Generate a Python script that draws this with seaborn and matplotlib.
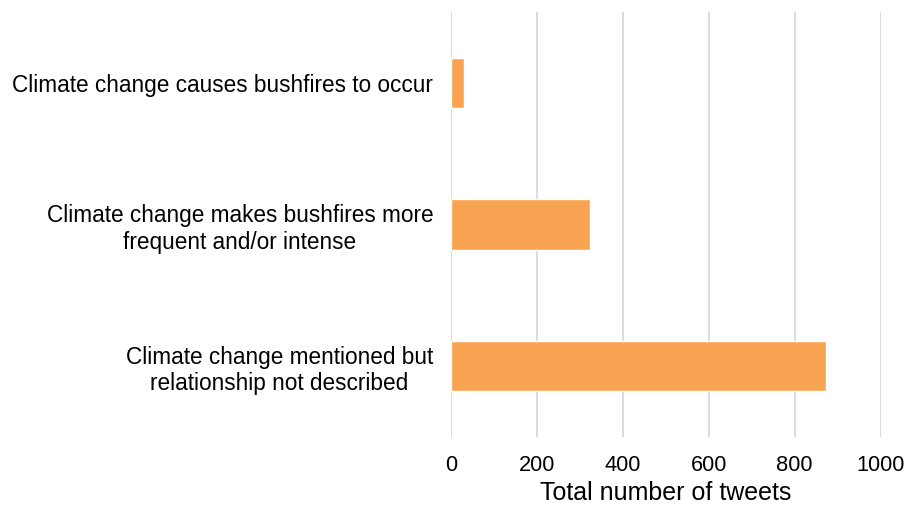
import matplotlib
matplotlib.use('Agg')
import matplotlib.pyplot as plt
import seaborn as sns
import pandas as pd

categories = ['Climate change causes bushfires to occur',
              'Climate change makes bushfires more\nfrequent and/or intense',
              'Climate change mentioned but\nrelationship not described']
tweets = [30, 324, 872]

df = pd.DataFrame({'category': categories, 'tweets': tweets})

sns.set_style('white')
plt.rcParams['font.family'] = ['Liberation Sans', 'DejaVu Sans']

fig = plt.figure(figsize=(9.06, 5.08), dpi=100)
ax = fig.add_axes([0.498, 0.140, 0.474, 0.836])

sns.barplot(ax=ax, data=df, x='tweets', y='category', color='#F9A452',
            saturation=1, width=0.355, orient='h')

ax.set_xlim(0, 1000)
ax.set_ylim(2.5, -0.5)
ax.set_xticks(range(0, 1001, 200))
ax.xaxis.grid(True, color='#d9d9d9', linewidth=1.3)
ax.set_axisbelow(True)
for s in ax.spines.values():
    s.set_visible(False)

ax.tick_params(axis='x', labelsize=15.7, length=0, pad=13, colors='black')
ax.tick_params(axis='y', labelsize=16.3, length=0, pad=13, colors='black')
for lbl in ax.get_yticklabels():
    lbl.set_multialignment('center')

ax.set_xlabel('Total number of tweets', fontsize=18, labelpad=4, color='black')
ax.set_ylabel('')

plt.savefig('out.png', dpi=100)
